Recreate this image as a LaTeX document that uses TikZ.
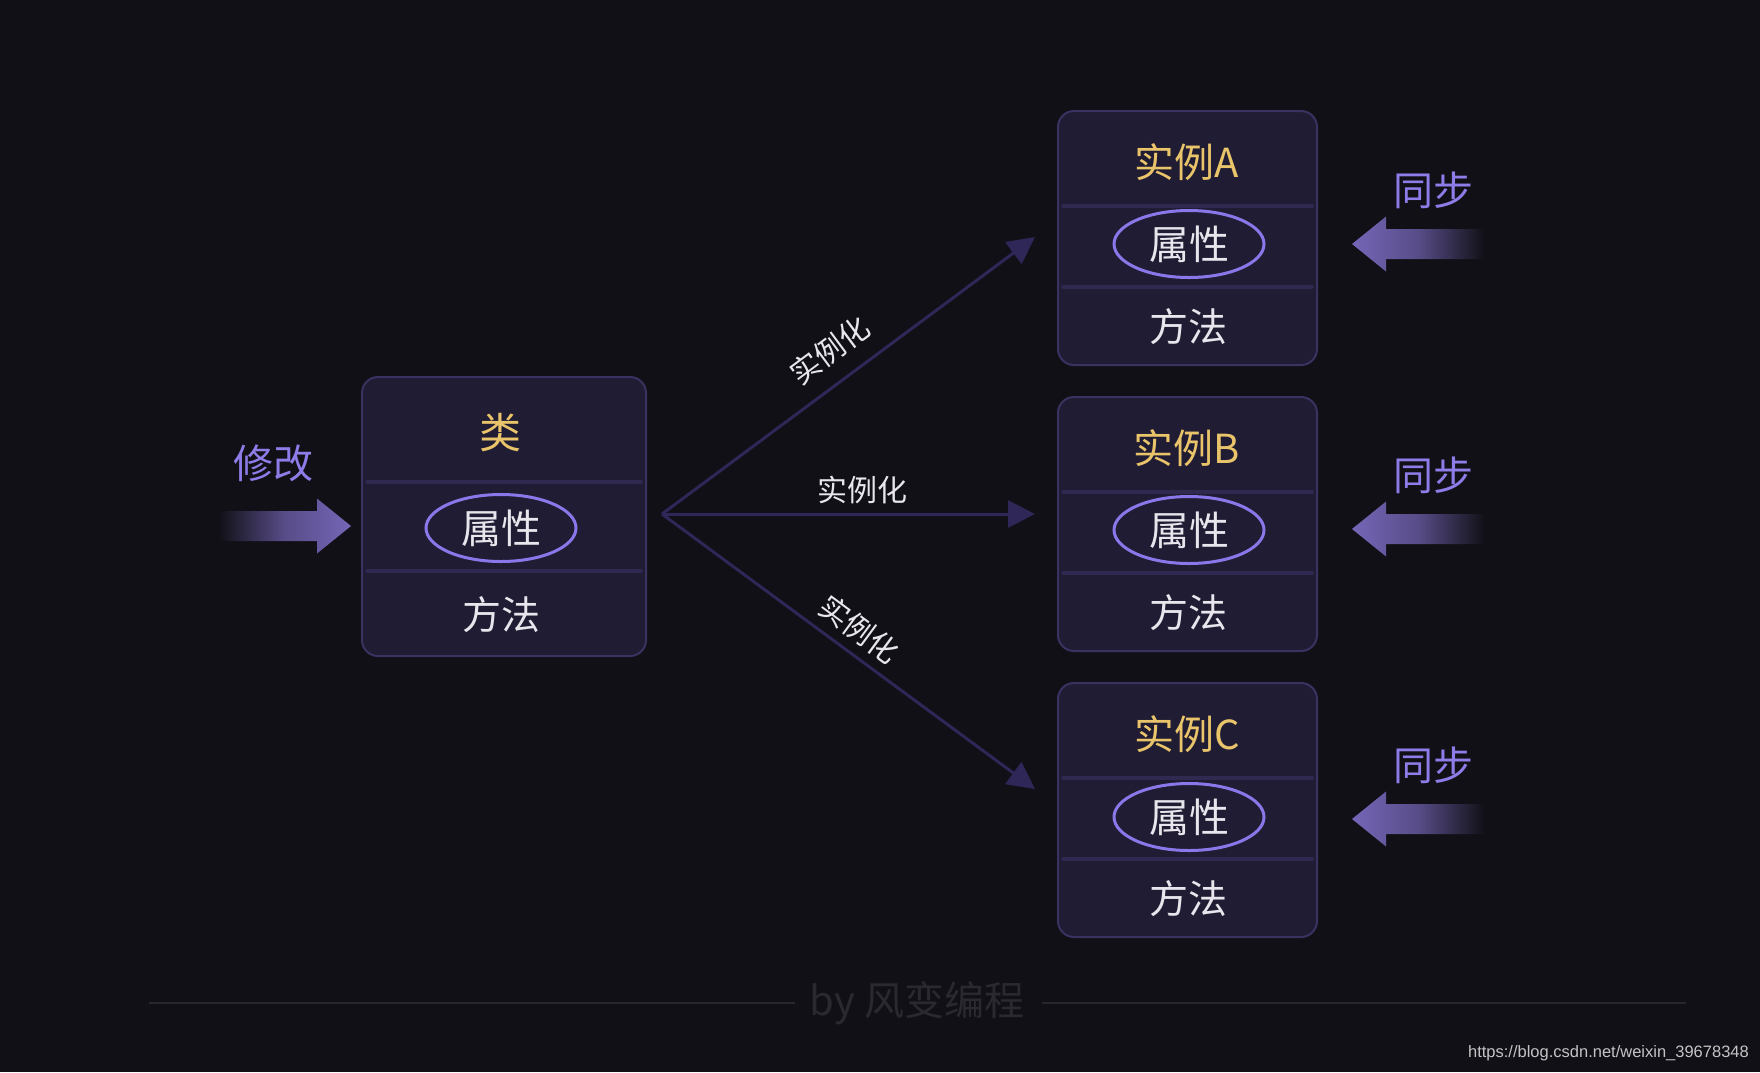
\documentclass[tikz,border=0pt]{standalone}
\usepackage{fontspec}
\setmainfont{Noto Sans CJK SC}
\newfontfamily\wmfont{Liberation Sans}
\usetikzlibrary{shapes.geometric,arrows.meta}
\definecolor{bgc}{HTML}{111016}
\definecolor{boxfill}{HTML}{201C33}
\definecolor{boxline}{HTML}{3A3260}
\definecolor{divline}{HTML}{302950}
\definecolor{gold}{HTML}{E9C46A}
\definecolor{lav}{HTML}{8E7CE8}
\definecolor{ellc}{HTML}{8A78EA}
\definecolor{txt}{HTML}{E8E6EC}
\definecolor{connc}{HTML}{2E2758}
\definecolor{arrc}{HTML}{7666B8}
\definecolor{footc}{HTML}{2A2930}
\definecolor{footl}{HTML}{27262D}
\definecolor{wmc}{HTML}{C4C4C4}
\begin{document}
\begin{tikzpicture}[x=1pt,y=1pt,
  clsbox/.style={draw=boxline, line width=2pt, fill=boxfill, rounded corners=16pt, minimum width=284pt, minimum height=279pt, inner sep=0pt},
  instbox/.style={draw=boxline, line width=2pt, fill=boxfill, rounded corners=16pt, minimum width=259pt, minimum height=254pt, inner sep=0pt},
  divider/.style={draw=divline, line width=3.5pt, line cap=round},
  titletext/.style={text=gold, font=\fontsize{40}{40}\selectfont, inner sep=0pt},
  attr/.style={ellipse, draw=ellc, line width=3pt, minimum width=150pt, minimum height=67pt, inner sep=0pt, text=txt, font=\fontsize{40}{40}\selectfont},
  methtext/.style={text=txt, font=\fontsize{39}{39}\selectfont, inner sep=0pt},
  sidetext/.style={text=lav, font=\fontsize{40}{40}\selectfont, inner sep=0pt},
  conn/.style={draw=connc, line width=3pt, -{Triangle[length=27pt,width=27pt]}},
  lbl/.style={text=txt, font=\fontsize{30}{30}\selectfont, inner sep=0pt, sloped},
]
\fill[bgc] (0,0) rectangle (1760,-1072);
\useasboundingbox (0,0) rectangle (1760,-1072);

% class box
\node[clsbox] (cls) at (504,-516.5) {};
\node[titletext, font=\fontsize{42}{42}\selectfont] (clstitle) at (500,-433) {类};
\draw[divider] (367,-482) -- (641,-482);
\draw[divider] (367,-571) -- (641,-571);
\node[attr] (clsattr) at (501,-528) {属性};
\node[methtext] (clsmeth) at (501,-615) {方法};

% instance A
\node[instbox] (A) at (1187.5,-238) {};
\node[titletext] (Atitle) at (1187,-162) {实例A};
\draw[divider] (1063,-206) -- (1312,-206);
\draw[divider] (1063,-287) -- (1312,-287);
\node[attr] (Aattr) at (1189,-244) {属性};
\node[methtext] (Ameth) at (1188,-327) {方法};

% instance B
\node[instbox] (B) at (1187.5,-524) {};
\node[titletext] (Btitle) at (1187,-448) {实例B};
\draw[divider] (1063,-492) -- (1312,-492);
\draw[divider] (1063,-573) -- (1312,-573);
\node[attr] (Battr) at (1189,-530) {属性};
\node[methtext] (Bmeth) at (1188,-613) {方法};

% instance C
\node[instbox] (C) at (1187.5,-810) {};
\node[titletext] (Ctitle) at (1187,-734) {实例C};
\draw[divider] (1063,-778) -- (1312,-778);
\draw[divider] (1063,-859) -- (1312,-859);
\node[attr] (Cattr) at (1189,-817) {属性};
\node[methtext] (Cmeth) at (1188,-899) {方法};

% connectors
\coordinate (fork) at (662,-514);
\coordinate (tA) at (1035,-237);
\coordinate (tB) at (1035,-514);
\coordinate (tC) at (1035,-789);
\draw[conn] (fork) -- (tA) node[lbl, pos=0.5, above=16pt] (lA) {实例化};
\draw[conn] (fork) -- (tB) node[lbl, pos=0.537, above=9pt] (lB) {实例化};
\draw[conn] (fork) -- (tC) node[lbl, pos=0.49, above=9pt] (lC) {实例化};

% modify arrow
\node[sidetext] (modify) at (273,-463) {修改};
\shade[left color=bgc, right color=arrc, middle color=arrc!70!bgc]
  (218,-511) -- (317,-511) -- (317,-498.5) -- (351,-526) -- (317,-553.5) -- (317,-541) -- (218,-541) -- cycle;

% sync arrows
\foreach \n/\ty/\ay in {sA/190/244, sB/475/529, sC/765/819}{
  \node[sidetext] (\n) at (1433,-\ty) {同步};
  \shade[left color=arrc, right color=bgc, middle color=arrc!70!bgc]
    (1352,-\ay) -- (1386,-\ay+27.5) -- (1386,-\ay+15) -- (1485,-\ay+15)
    -- (1485,-\ay-15) -- (1386,-\ay-15) -- (1386,-\ay-27.5) -- cycle;
}

% footer
\node[text=footc, font=\fontsize{40}{40}\selectfont, inner sep=0pt] (foot) at (917,-1003) {by 风变编程};
\draw[footl, line width=2pt] (149,-1003) -- (795,-1003);
\draw[footl, line width=2pt] (1042,-1003) -- (1686,-1003);
\node[text=wmc, font=\wmfont\fontsize{16.5}{16.5}\selectfont, inner sep=0pt, anchor=east] (wm) at (1749,-1053) {https://blog.csdn.net/weixin\_39678348};
\end{tikzpicture}
\end{document}
